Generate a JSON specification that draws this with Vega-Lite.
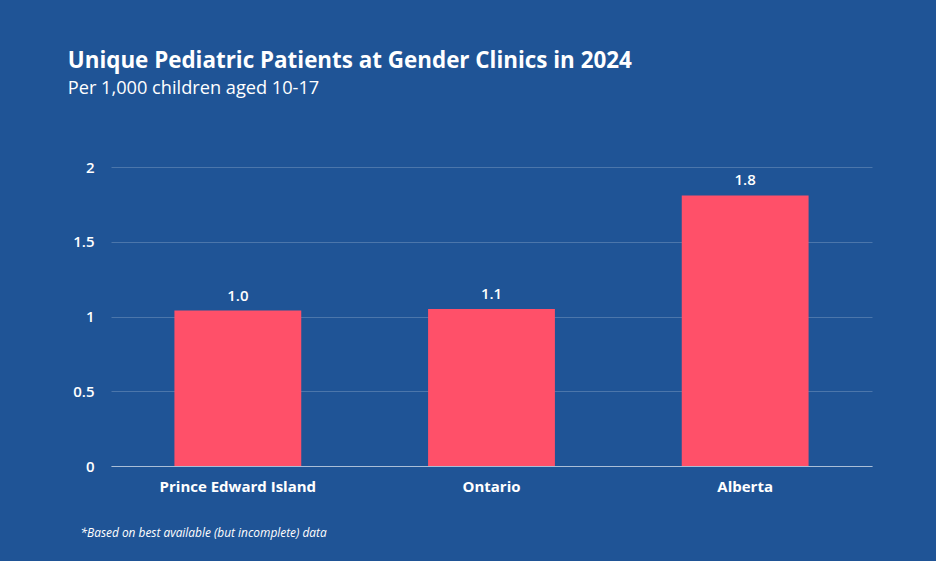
{
  "$schema": "https://vega.github.io/schema/vega-lite/v6.json",
  "autosize": "none",
  "width": 761,
  "height": 299,
  "padding": {"left": 111, "top": 167, "right": 64, "bottom": 95},
  "background": "#1f5496",
  "title": {
    "text": "Unique Pediatric Patients at Gender Clinics in 2024",
    "subtitle": "Per 1,000 children aged 10-17",
    "anchor": "start",
    "dx": -5,
    "offset": 63,
    "font": "Open Sans",
    "fontSize": 22.4,
    "fontWeight": "bold",
    "color": "#ffffff",
    "subtitleFont": "Open Sans",
    "subtitleFontSize": 18.2,
    "subtitleColor": "#ffffff",
    "subtitlePadding": 7
  },
  "data": {
    "values": [
      {"province": "Prince Edward Island", "value": 1.04, "label": "1.0"},
      {"province": "Ontario", "value": 1.05, "label": "1.1"},
      {"province": "Alberta", "value": 1.81, "label": "1.8"}
    ]
  },
  "encoding": {
    "x": {
      "field": "province",
      "type": "nominal",
      "sort": null,
      "scale": {"paddingInner": 0.5, "paddingOuter": 0.25},
      "axis": {
        "title": "*Based on best available (but incomplete) data",
        "titleAnchor": "start",
        "titleAlign": "left",
        "titleX": -31,
        "titleY": 61,
        "titleFont": "Open Sans",
        "titleFontSize": 11.9,
        "titleFontStyle": "italic",
        "titleFontWeight": "normal",
        "titleColor": "#ffffff",
        "labelAngle": 0,
        "labelFont": "Open Sans",
        "labelFontSize": 15,
        "labelFontWeight": "bold",
        "labelColor": "#ffffff",
        "labelPadding": 13,
        "ticks": false,
        "domainColor": "#aabed7",
        "domainWidth": 1
      }
    },
    "y": {
      "field": "value",
      "type": "quantitative",
      "scale": {"domain": [0, 2]},
      "axis": {
        "title": null,
        "values": [0, 0.5, 1, 1.5, 2],
        "format": "~g",
        "labelFont": "Open Sans",
        "labelFontSize": 15,
        "labelFontWeight": 600,
        "labelColor": "#ffffff",
        "labelPadding": 17,
        "ticks": false,
        "domain": false,
        "gridColor": "#ffffff",
        "gridOpacity": 0.2,
        "gridWidth": 1
      }
    }
  },
  "layer": [
    {"mark": {"type": "bar", "color": "#ff5069"}},
    {
      "mark": {
        "type": "text",
        "baseline": "bottom",
        "dy": -7,
        "font": "Open Sans",
        "fontSize": 15,
        "fontWeight": 600,
        "color": "#ffffff"
      },
      "encoding": {"text": {"field": "label"}}
    }
  ],
  "config": {"view": {"stroke": null}}
}
